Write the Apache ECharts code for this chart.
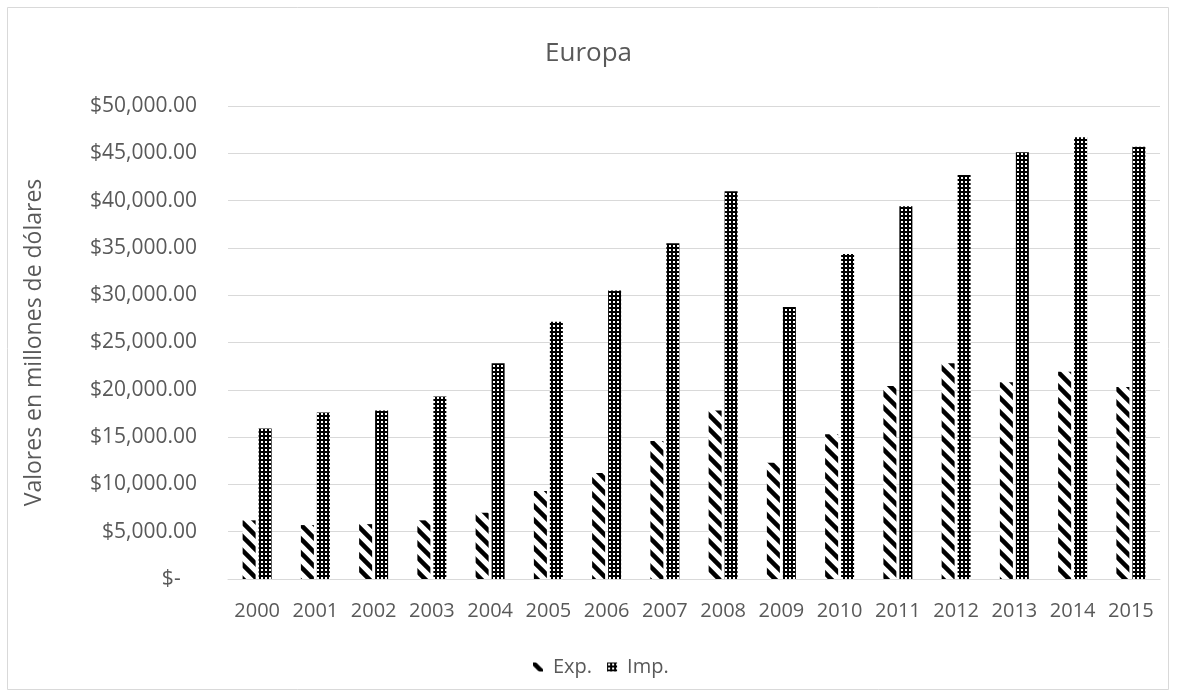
<!DOCTYPE html>
<html><head><meta charset="utf-8">
<script src="https://cdn.jsdelivr.net/npm/echarts@6/dist/echarts.min.js"></script>
<style>html,body{margin:0;padding:0;background:#fff}#c{width:1177px;height:698px}</style>
</head><body><div id="c"></div>
<script>
const years = ['2000','2001','2002','2003','2004','2005','2006','2007','2008','2009','2010','2011','2012','2013','2014','2015'];
const expValues = [6200,5700,5800,6200,7000,9300,11200,14600,17800,12300,15300,20400,22800,20800,21900,20300];
const impValues = [15900,17600,17800,19300,22800,27200,30500,35500,41000,28750,34350,39400,42700,45100,46700,45700];
const yTicks = [0,5000,10000,15000,20000,25000,30000,35000,40000,45000,50000];

function stripePattern(){
  const s=14, c=document.createElement('canvas'); c.width=s; c.height=s;
  const g=c.getContext('2d'); g.fillStyle='#fff'; g.fillRect(0,0,s,s);
  g.strokeStyle='#000'; g.lineWidth=4.5; g.lineCap='square';
  for(const o of [-s,0,s]){ g.beginPath(); g.moveTo(o,0); g.lineTo(o+s,s); g.stroke(); }
  return c;
}
function checkPattern(){
  const s=4, c=document.createElement('canvas'); c.width=s; c.height=s;
  const g=c.getContext('2d'); g.fillStyle='#000'; g.fillRect(0,0,s,s);
  g.fillStyle='#fff'; g.fillRect(1,1,2,2);
  return c;
}
const expFill={image:stripePattern(),repeat:'repeat'};
const impFill={image:checkPattern(),repeat:'repeat'};
const txt='#595959';
const font='Open Sans';
const chart=echarts.init(document.getElementById('c'),null,{renderer:'canvas'});
chart.setOption({
  animation:false,
  backgroundColor:'#fff',
  graphic:[{type:'rect',shape:{x:7.5,y:7.5,width:1161,height:682},style:{fill:'none',stroke:'#d9d9d9',lineWidth:1},silent:true}],
  title:{text:'Europa',left:'center',top:36,textStyle:{fontFamily:font,fontSize:26,fontWeight:'normal',color:txt}},
  grid:{left:228,right:17,top:106,bottom:119,containLabel:false},
  legend:{top:652,left:528,itemWidth:10,itemHeight:9,itemGap:15,icon:'rect',
    textStyle:{fontFamily:font,fontSize:20,color:txt,padding:[0,0,0,5]},
    data:['Exp.','Imp.']},
  xAxis:{type:'category',data:years,
    axisLine:{lineStyle:{color:'#d9d9d9',width:1}},axisTick:{show:false},
    axisLabel:{fontFamily:font,fontSize:20,color:txt,margin:22,interval:0}},
  yAxis:{type:'value',min:0,max:50000,interval:5000,
    name:'Valores en millones de dólares',nameLocation:'middle',nameGap:182,
    nameTextStyle:{fontFamily:font,fontSize:23,color:txt},
    axisLine:{show:false},axisTick:{show:false},
    splitLine:{lineStyle:{color:'#d9d9d9',width:1}},
    axisLabel:{fontFamily:font,fontSize:21,color:txt,margin:31,
      formatter:v=>v===0?'$-   ':'$'+v.toLocaleString('en-US',{minimumFractionDigits:2,maximumFractionDigits:2})}},
  series:[
    {name:'Exp.',type:'bar',data:expValues,barWidth:13,barGap:'23%',itemStyle:{color:expFill}},
    {name:'Imp.',type:'bar',data:impValues,barWidth:13,itemStyle:{color:impFill}}
  ]
});
</script></body></html>
